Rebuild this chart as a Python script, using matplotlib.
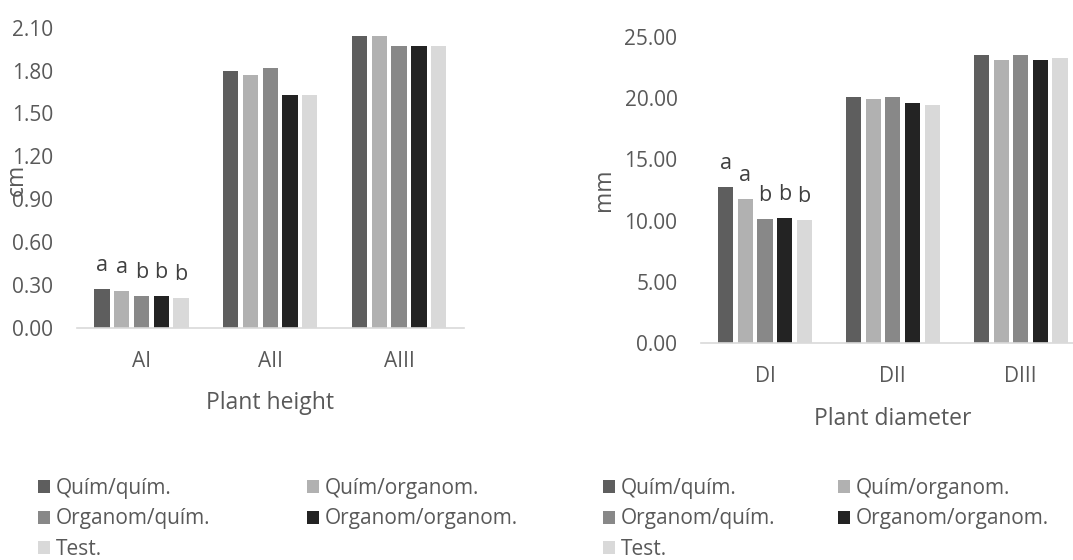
import matplotlib
matplotlib.use("Agg")
import matplotlib.pyplot as plt
from matplotlib.patches import Patch
import numpy as np

plt.rcParams["font.family"] = ["Open Sans", "DejaVu Sans"]

# Treatments and their fill colours
treatments = ["Quím/quím.", "Quím/organom.", "Organom/quím.", "Organom/organom.", "Test."]
colors = ["#5e5e5e", "#b1b1b1", "#888888", "#232323", "#d9d9d9"]

# Plant height (cm)
height_cats = ["AI", "AII", "AIII"]
height_vals = [
    [0.27, 1.80, 2.04],   # Quím/quím.
    [0.26, 1.77, 2.04],   # Quím/organom.
    [0.22, 1.82, 1.97],   # Organom/quím.
    [0.22, 1.63, 1.97],   # Organom/organom.
    [0.21, 1.63, 1.97],   # Test.
]
height_letters = ["a", "a", "b", "b", "b"]
height_ticks = [0.00, 0.30, 0.60, 0.90, 1.20, 1.50, 1.80, 2.10]

# Plant diameter (mm)
diam_cats = ["DI", "DII", "DIII"]
diam_vals = [
    [12.75, 20.05, 23.47],  # Quím/quím.
    [11.80, 19.95, 23.06],  # Quím/organom.
    [10.10, 20.05, 23.47],  # Organom/quím.
    [10.20, 19.62, 23.06],  # Organom/organom.
    [10.02, 19.40, 23.28],  # Test.
]
diam_letters = ["a", "a", "b", "b", "b"]
diam_ticks = [0.0, 5.0, 10.0, 15.0, 20.0, 25.0]

W, H = 1073, 560
fig = plt.figure(figsize=(W / 100, H / 100), dpi=100)

TXT = "#595959"
LET = "#404040"
STEP = 0.1535
BW = 0.119


def px_axes(x0, x1, ytop, ybot):
    return fig.add_axes([x0 / W, 1 - ybot / H, (x1 - x0) / W, (ybot - ytop) / H])


def draw_panel(ax, cats, vals, letters, ticks, fmt, xlabel, ylabel, ylabel_x, ylabel_y):
    x = np.arange(len(cats))
    for i, (series, col) in enumerate(zip(vals, colors)):
        pos = x + (i - 2) * STEP
        ax.bar(pos, series, width=BW, color=col, edgecolor="none", zorder=2)
        ax.annotate(letters[i], (pos[0], series[0]), xytext=(0, 13),
                    textcoords="offset points", ha="center", va="baseline",
                    fontsize=15.5, color=LET)
    ax.set_xlim(-0.5, len(cats) - 0.5)
    ax.set_ylim(ticks[0], ticks[-1])
    ax.set_yticks(ticks)
    ax.set_yticklabels([fmt.format(t) for t in ticks])
    ax.set_xticks(x)
    ax.set_xticklabels(cats)
    for s in ["top", "right", "left"]:
        ax.spines[s].set_visible(False)
    ax.spines["bottom"].set_color("#d9d9d9")
    ax.spines["bottom"].set_linewidth(1.2)
    ax.tick_params(axis="both", length=0, labelsize=15, labelcolor=TXT)
    ax.tick_params(axis="y", pad=17)
    ax.tick_params(axis="x", pad=16.5)
    ax.set_xlabel(xlabel, fontsize=16.5, color=TXT, labelpad=14)
    fig.text(ylabel_x / W, 1 - ylabel_y / H, ylabel, rotation=90, fontsize=16.5,
             color=TXT, ha="center", va="center")


ax1 = px_axes(77, 463.5, 27.7, 327.7)
draw_panel(ax1, height_cats, height_vals, height_letters, height_ticks, "{:.2f}",
           "Plant height", "cm", 17, 180)

ax2 = px_axes(701, 1084.7, 36.7, 343.3)
draw_panel(ax2, diam_cats, diam_vals, diam_letters, diam_ticks, "{:.2f}",
           "Plant diameter", "mm", 604, 190)

# Legends: two columns under each panel, filled row by row
handles = [Patch(facecolor=c, edgecolor="none") for c in colors]
col_a = [0, 2, 4]
col_b = [1, 3]


def add_legend(idx, xpx, ypx):
    lg = fig.legend([handles[i] for i in idx], [treatments[i] for i in idx],
                    loc="upper left", bbox_to_anchor=(xpx / W, 1 - ypx / H),
                    frameon=False, fontsize=15, labelcolor=TXT,
                    handlelength=0.58, handleheight=0.58, handletextpad=0.27,
                    labelspacing=0.45, borderpad=0, borderaxespad=0)
    return lg


add_legend(col_a, 38, 478)
add_legend(col_b, 307, 478)
add_legend(col_a, 603, 478)
add_legend(col_b, 838, 478)

fig.savefig("out.png", dpi=100)
